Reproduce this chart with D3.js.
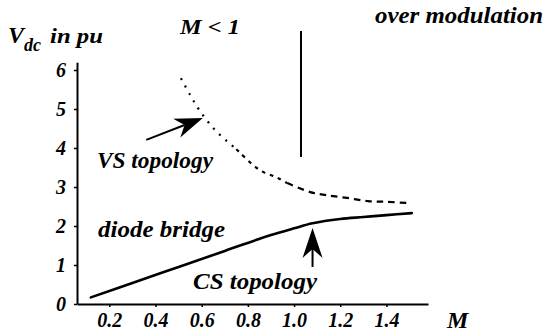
<!DOCTYPE html>
<html>
<head>
<meta charset="utf-8">
<script src="https://cdn.jsdelivr.net/npm/d3@7/dist/d3.min.js"></script>
<style>
  html, body { margin: 0; padding: 0; background: #fff; }
  svg { display: block; }
</style>
</head>
<body>
<svg id="chart" width="545" height="332"></svg>
<script>
// DC-link voltage (pu) against modulation index M
const xTicks = [0.2, 0.4, 0.6, 0.8, 1.0, 1.2, 1.4];
const yTicks = [0, 1, 2, 3, 4, 5, 6];

// CS topology (solid curve)
const csM = [0.12, 0.3, 0.5, 0.7, 0.9, 1.0, 1.08, 1.2, 1.3, 1.4, 1.51];
const csV = [0.17, 0.54, 0.95, 1.36, 1.77, 1.94, 2.07, 2.18, 2.23, 2.28, 2.33];

// VS topology (dashed curve)
const vsM = [0.51, 0.55, 0.59, 0.65, 0.71, 0.75, 0.85, 0.93, 0.97, 1.07, 1.14, 1.23, 1.32, 1.4, 1.49];
const vsV = [5.79, 5.36, 4.97, 4.51, 4.17, 3.97, 3.44, 3.23, 3.10, 2.87, 2.79, 2.72, 2.64, 2.62, 2.59];

// boundary between M < 1 and over modulation
const boundaryM = 1.03;
const boundaryV = [3.77, 7.0];

// annotation arrows: [tail, tip] in (M, V)
const vsArrow = [[0.36, 4.21], [0.605, 4.77]];
const csArrow = [[1.08, 0.95], [1.08, 1.95]];

const FONT = '"Liberation Serif"';
const serif = sel => sel.style("font-family", FONT).style("font-style", "italic")
  .style("font-weight", "bold").style("fill", "#000");

const svg = d3.select("#chart");

const x = d3.scaleLinear().domain([0.06, 1.58]).range([77, 428]);
const y = d3.scaleLinear().domain([0, 6.2]).range([304, 62.2]);

// axes
const xAxis = svg.append("g")
  .attr("transform", `translate(0,${y(0)})`)
  .call(d3.axisBottom(x).tickValues(xTicks).tickFormat(d3.format(".1f"))
    .tickSize(3).tickSizeOuter(0).tickPadding(6));
const yAxis = svg.append("g")
  .attr("transform", `translate(${x(0.06)},0)`)
  .call(d3.axisLeft(y).tickValues(yTicks).tickFormat(d3.format("d"))
    .tickSize(3).tickSizeOuter(0).tickPadding(8));

[xAxis, yAxis].forEach(g => {
  g.attr("font-family", null);
  g.select(".domain").attr("stroke", "#000").attr("stroke-width", 2);
  g.selectAll(".tick line").attr("stroke", "#000").attr("stroke-width", 1.5);
  g.selectAll(".tick text").call(serif).style("font-size", "20px");
});

const line = d3.line().x(d => x(d[0])).y(d => y(d[1])).curve(d3.curveCatmullRom);

// solid curve
const csPts = csM.map((m, i) => [m, csV[i]]);
svg.append("path").attr("d", line(csPts))
  .attr("fill", "none").attr("stroke", "#000").attr("stroke-width", 2.6)
  .attr("stroke-linecap", "round");

// dashed curve, dots near the top tightening into dashes
const vsPts = vsM.map((m, i) => [m, vsV[i]]);
const segs = [
  { from: 0.5, to: 0.76, dash: "2,6.5" },
  { from: 0.75, to: 0.98, dash: "3.5,5" },
  { from: 0.97, to: 1.6, dash: "6.5,5" }
];
segs.forEach(s => {
  const pts = vsPts.filter(p => p[0] >= s.from && p[0] <= s.to);
  svg.append("path").attr("d", line(pts))
    .attr("fill", "none").attr("stroke", "#000").attr("stroke-width", 2.2)
    .attr("stroke-dasharray", s.dash);
});

// boundary line
svg.append("line")
  .attr("x1", x(boundaryM)).attr("x2", x(boundaryM))
  .attr("y1", y(boundaryV[0])).attr("y2", y(boundaryV[1]))
  .attr("stroke", "#000").attr("stroke-width", 2);

// arrows with filled notched heads
function arrow(a, headLen, headHalf) {
  const x0 = x(a[0][0]), y0 = y(a[0][1]), x1 = x(a[1][0]), y1 = y(a[1][1]);
  const ang = Math.atan2(y1 - y0, x1 - x0);
  const ux = Math.cos(ang), uy = Math.sin(ang);
  const bx = x1 - ux * headLen, by = y1 - uy * headLen;
  const nx = x1 - ux * headLen * 0.7, ny = y1 - uy * headLen * 0.7;
  svg.append("line").attr("x1", x0).attr("y1", y0).attr("x2", nx).attr("y2", ny)
    .attr("stroke", "#000").attr("stroke-width", 2);
  const head = [[x1, y1], [bx - uy * headHalf, by + ux * headHalf], [nx, ny], [bx + uy * headHalf, by - ux * headHalf]];
  svg.append("path").attr("d", "M" + head.map(p => p.join(",")).join("L") + "Z").attr("fill", "#000");
}
arrow(vsArrow, 28, 10);
arrow(csArrow, 30, 10);

// labels
function label(txt, px, py, size, width) {
  const t = svg.append("text").attr("x", px).attr("y", py).call(serif)
    .style("font-size", size + "px").text(txt);
  if (width) t.attr("textLength", width).attr("lengthAdjust", "spacingAndGlyphs");
  return t;
}
const vt = svg.append("text").attr("x", 8).attr("y", 43).call(serif).style("font-size", "24px");
vt.append("tspan").text("V");
vt.append("tspan").style("font-size", "18px").attr("dy", 8).text("dc");
label("in pu", 50, 43, 22, 53);
label("M < 1", 180, 34, 22, 60);
label("over modulation", 375, 23, 23, 168);
label("VS topology", 97, 168, 23, 116);
label("diode bridge", 98, 237, 23, 127);
label("CS topology", 193, 289, 23, 124);
label("M", 447, 328, 24);
</script>
</body>
</html>
